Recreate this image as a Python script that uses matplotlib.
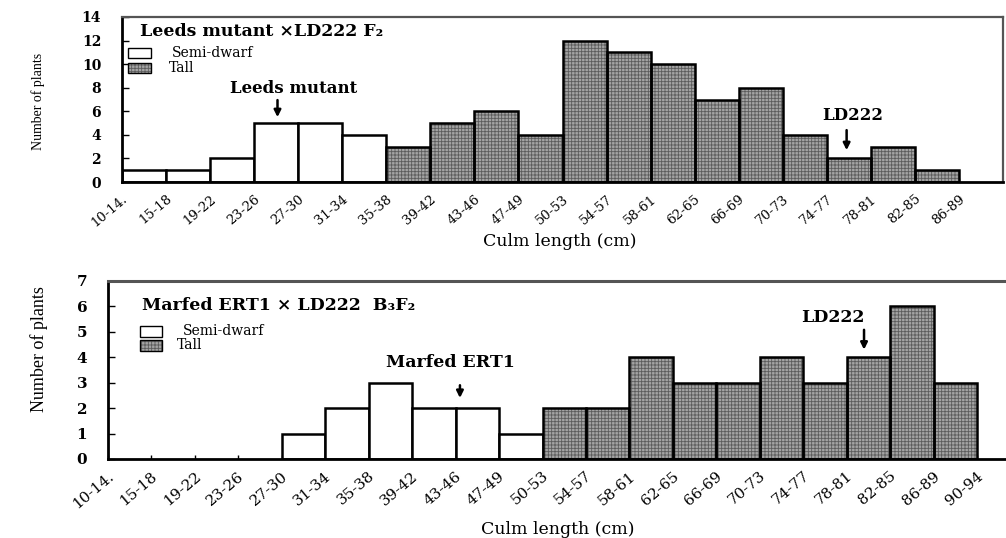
import matplotlib
matplotlib.use('Agg')
import matplotlib.pyplot as plt
import numpy as np
from matplotlib.patches import Rectangle
from matplotlib.transforms import ScaledTranslation

# ---------------- data ----------------
top_labels = ['10-14.', '15-18', '19-22', '23-26', '27-30', '31-34', '35-38', '39-42',
              '43-46', '47-49', '50-53', '54-57', '58-61', '62-65', '66-69', '70-73',
              '74-77', '78-81', '82-85', '86-89']
top_semidwarf = [1, 1, 2, 5, 5, 4, 0, 0, 0, 0, 0, 0, 0, 0, 0, 0, 0, 0, 0, 0]
top_tall = [0, 0, 0, 0, 0, 0, 3, 5, 6, 4, 12, 11, 10, 7, 8, 4, 2, 3, 1, 0]

bot_labels = ['10-14.', '15-18', '19-22', '23-26', '27-30', '31-34', '35-38', '39-42',
              '43-46', '47-49', '50-53', '54-57', '58-61', '62-65', '66-69', '70-73',
              '74-77', '78-81', '82-85', '86-89', '90-94']
bot_semidwarf = [0, 0, 0, 0, 1, 2, 3, 2, 2, 1, 0, 0, 0, 0, 0, 0, 0, 0, 0, 0, 0]
bot_tall = [0, 0, 0, 0, 0, 0, 0, 0, 0, 0, 2, 2, 4, 3, 3, 4, 3, 4, 6, 3, 0]

top_title = 'Leeds mutant \u00d7LD222 F\u2082'
bot_title = 'Marfed ERT1 \u00d7 LD222  B\u2083F\u2082'
legend_labels = ['Semi-dwarf', 'Tall']
xlabel = 'Culm length (cm)'
ylabel = 'Number of plants'
# parent markers: (label, category)
top_marks = [('Leeds mutant', '23-26'), ('LD222', '74-77')]
bot_marks = [('Marfed ERT1', '43-46'), ('LD222', '78-81')]

# ---------------- style ----------------
W, H = 1006, 538
TALL_FACE = '#a4a4a4'
TALL_HATCH = '#5c5c5c'
SERIF = 'DejaVu Serif'
plt.rcParams['hatch.linewidth'] = 0.6

fig = plt.figure(figsize=(W / 100, H / 100), dpi=100)


def fx(x):
    return x / W


def fy(y):
    return 1 - y / H


def axrect(l, t, r, b):
    return [fx(l), fy(b), (r - l) / W, (b - t) / H]


ax1 = fig.add_axes(axrect(122, 17, 1003, 182))
ax2 = fig.add_axes(axrect(108, 281, 108 + 21 * 43.45, 459))


def draw_panel(ax, labels, semi, tall, ymax, ystep, xfs, yfs, top_color):
    n = len(labels)
    x = np.arange(n)
    semi = np.asarray(semi, float)
    tall = np.asarray(tall, float)
    ms = semi > 0
    mt = tall > 0
    ax.bar(x[ms], semi[ms], width=1, align='edge', facecolor='white',
           edgecolor='black', linewidth=1.8, zorder=2)
    ax.bar(x[mt], tall[mt], width=1, align='edge', facecolor=TALL_FACE,
           edgecolor=TALL_HATCH, hatch='+++++', linewidth=0, zorder=2)
    ax.bar(x[mt], tall[mt], width=1, align='edge', fill=False,
           edgecolor='black', linewidth=1.8, zorder=3)
    ax.set_xlim(0, n)
    ax.set_ylim(0, ymax)
    ax.set_yticks(np.arange(0, ymax + 1, ystep))
    ax.set_yticklabels([str(v) for v in np.arange(0, ymax + 1, ystep)],
                       fontfamily=SERIF, fontweight='bold', fontsize=yfs)
    ax.set_xticks(x)
    ax.set_xticklabels(labels, rotation=40, ha='right', va='center',
                       rotation_mode='anchor', fontfamily=SERIF, fontsize=xfs)
    ax.tick_params(axis='y', direction='in', length=5, width=1, pad=15)
    ax.tick_params(axis='x', direction='in', length=3, width=1, pad=11)
    for lbl in ax.get_xticklabels():
        lbl.set_transform(lbl.get_transform() +
                          ScaledTranslation(4 / 100, 0, fig.dpi_scale_trans))
    ax.spines['left'].set_linewidth(2)
    ax.spines['bottom'].set_linewidth(2)
    ax.spines['top'].set_color(top_color)
    ax.spines['right'].set_color(top_color)
    ax.spines['top'].set_linewidth(1.6)
    ax.spines['right'].set_linewidth(1.6)


draw_panel(ax1, top_labels, top_semidwarf, top_tall, 14, 2, 9.5, 10, '#555555')
draw_panel(ax2, bot_labels, bot_semidwarf, bot_tall, 7, 1, 11, 11, '#555555')
ax2.spines['top'].set_linewidth(2.2)


def mark(ax, labels, semi, tall, name, cat, dx, gap, alen, tdx, tgap, fs):
    i = labels.index(cat)
    v = max(semi[i], tall[i])
    xa = i + 0.5 + dx
    ax.annotate('', xy=(xa, v + gap), xytext=(xa, v + gap + alen),
                arrowprops=dict(arrowstyle='-|>', color='black', lw=1.8,
                                mutation_scale=10, shrinkA=0, shrinkB=0))
    ax.text(i + 0.5 + tdx, v + gap + alen + tgap, name, ha='center', va='center',
            fontfamily=SERIF, fontweight='bold', fontsize=fs)


mark(ax1, top_labels, top_semidwarf, top_tall, top_marks[0][0], top_marks[0][1],
     0.03, 0.5, 1.45, 0.4, 1.0, 12)
mark(ax1, top_labels, top_semidwarf, top_tall, top_marks[1][0], top_marks[1][1],
     -0.05, 0.7, 1.7, 0.1, 1.2, 12)
mark(ax2, bot_labels, bot_semidwarf, bot_tall, bot_marks[0][0], bot_marks[0][1],
     -0.4, 0.4, 0.5, -0.63, 0.9, 12.5)
mark(ax2, bot_labels, bot_semidwarf, bot_tall, bot_marks[1][0], bot_marks[1][1],
     -0.1, 0.3, 0.78, -0.81, 0.5, 12.5)

# titles
fig.text(fx(140), fy(32), top_title, ha='left', va='center', fontfamily=SERIF,
         fontweight='bold', fontsize=12.5)
fig.text(fx(142), fy(305), bot_title, ha='left', va='center', fontfamily=SERIF,
         fontweight='bold', fontsize=12.5)

# legends
def legend(x0, x1, y_semi, y_tall, h, tx_semi, tx_tall, fs):
    fig.add_artist(Rectangle((fx(x0), fy(y_semi + h / 2)), (x1 - x0) / W, h / H,
                             transform=fig.transFigure, facecolor='white',
                             edgecolor='black', linewidth=1.0))
    fig.add_artist(Rectangle((fx(x0), fy(y_tall + h / 2)), (x1 - x0) / W, h / H,
                             transform=fig.transFigure, facecolor=TALL_FACE,
                             edgecolor=TALL_HATCH, hatch='+++++', linewidth=0))
    fig.add_artist(Rectangle((fx(x0), fy(y_tall + h / 2)), (x1 - x0) / W, h / H,
                             transform=fig.transFigure, fill=False,
                             edgecolor='black', linewidth=1.0))
    fig.text(fx(tx_semi), fy(y_semi), legend_labels[0], ha='left', va='center',
             fontfamily=SERIF, fontsize=fs)
    fig.text(fx(tx_tall), fy(y_tall), legend_labels[1], ha='left', va='center',
             fontfamily=SERIF, fontsize=fs)


legend(128, 151, 53, 68, 10, 172, 169, 10)
legend(140, 162, 331, 345, 11, 183, 177, 10)

# axis labels
fig.text(fx(560), fy(242), xlabel, ha='center', va='center', fontfamily=SERIF,
         fontsize=12.5)
fig.text(fx(558), fy(529), xlabel, ha='center', va='center', fontfamily=SERIF,
         fontsize=12.5)
fig.text(fx(38), fy(101), ylabel, rotation=90, ha='center', va='center',
         fontfamily='Liberation Serif', fontsize=10)
fig.text(fx(39), fy(349), ylabel, rotation=90, ha='center', va='center',
         fontfamily='Liberation Serif', fontsize=13)

fig.savefig('out.png', dpi=100)
